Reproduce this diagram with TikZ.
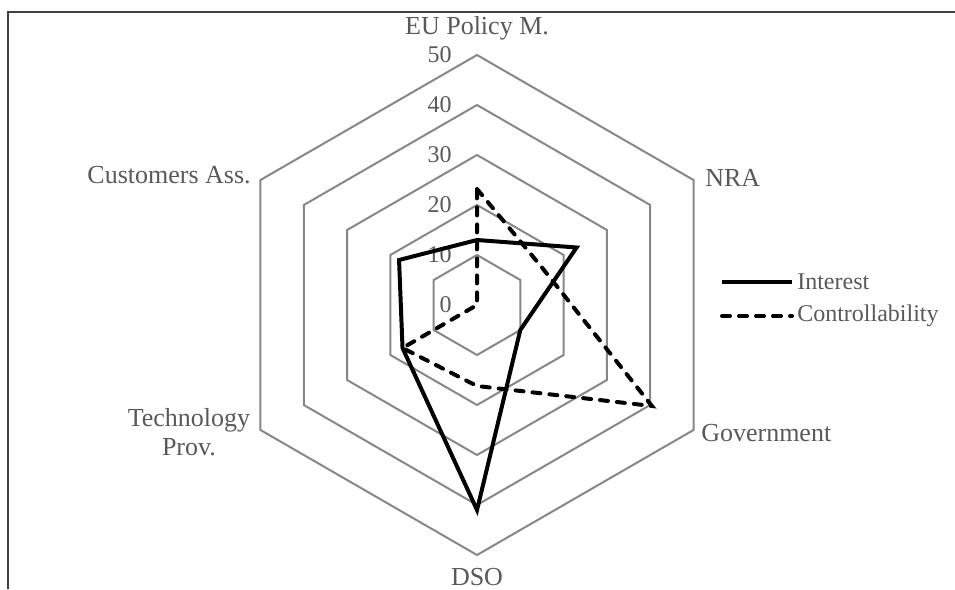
\documentclass[tikz,border=0pt]{standalone}
\usepackage{fontspec}
\setmainfont{Liberation Serif}
\usetikzlibrary{calc}
\begin{document}
\begin{tikzpicture}[x=0.75pt,y=0.75pt,
  gridline/.style={draw=black!47,line width=1.5pt,line join=miter},
  interest/.style={draw=black,line width=3pt,line join=miter},
  controll/.style={draw=black,line width=3pt,dash pattern=on 6pt off 6.75pt,line cap=round,line join=miter},
  catlabel/.style={text=black!65,font=\fontsize{19.5}{22}\selectfont,inner sep=0pt},
  numlabel/.style={text=black!65,font=\fontsize{18}{20}\selectfont,inner sep=0pt,anchor=east},
  leglabel/.style={text=black!65,font=\fontsize{18}{20}\selectfont,inner sep=0pt,anchor=west}]
\useasboundingbox (0,0) rectangle (955,589);
% frame
\draw[black!75,line width=1.5pt] (8,0) -- (8,577) -- (955,577);
\coordinate (C) at (477,284);
% rings
\foreach \r in {10,20,30,40,50}{
  \draw[gridline] ($(C)+(90:5*\r)$) -- ($(C)+(30:5*\r)$) -- ($(C)+(-30:5*\r)$) -- ($(C)+(-90:5*\r)$) -- ($(C)+(-150:5*\r)$) -- ($(C)+(150:5*\r)$) -- cycle;
}
% scale labels
\foreach \r in {0,10,20,30,40,50}{
  \node[numlabel] (n\r) at ($(C)+(-25,5*\r)$) {\r};
}
% data points
\coordinate (i1) at ($(C)+(90:65)$);
\coordinate (i2) at ($(C)+(30:115)$);
\coordinate (i3) at ($(C)+(-30:50)$);
\coordinate (i4) at ($(C)+(-90:205)$);
\coordinate (i5) at ($(C)+(-150:86)$);
\coordinate (i6) at ($(C)+(150:90)$);
\coordinate (c1) at ($(C)+(90:116)$);
\coordinate (c2) at ($(C)+(30:75)$);
\coordinate (c3) at ($(C)+(-30:202)$);
\coordinate (c4) at ($(C)+(-90:81)$);
\coordinate (c5) at ($(C)+(-150:86)$);
\coordinate (c6) at (C);
\draw[interest] (i1) -- (i2) -- (i3) -- (i4) -- (i5) -- (i6) -- cycle;
\draw[controll] (c1) -- (c2) -- (c3) -- (c4) -- (c5) -- (c6) -- cycle;
% category labels
\node[catlabel] (eu) at (477,561) {EU Policy M.};
\node[catlabel,anchor=west] (nra) at (705,411) {NRA};
\node[catlabel,anchor=west] (gov) at (701,156) {Government};
\node[catlabel] (dso) at (477,12) {DSO};
\node[catlabel,align=center] (tech) at (189,157) {Technology\\Prov.};
\node[catlabel,anchor=east] (cust) at (251,414) {Customers Ass.};
% legend
\coordinate (la1) at (722,307);
\coordinate (la2) at (792,307);
\coordinate (lb1) at (722,273);
\coordinate (lb2) at (792,273);
\draw[interest] (la1) -- (la2);
\draw[controll] (lb1) -- (lb2);
\node[leglabel] (lint) at (797,307) {Interest};
\node[leglabel] (lcon) at (797,273) {Controllability};
\end{tikzpicture}
\end{document}
